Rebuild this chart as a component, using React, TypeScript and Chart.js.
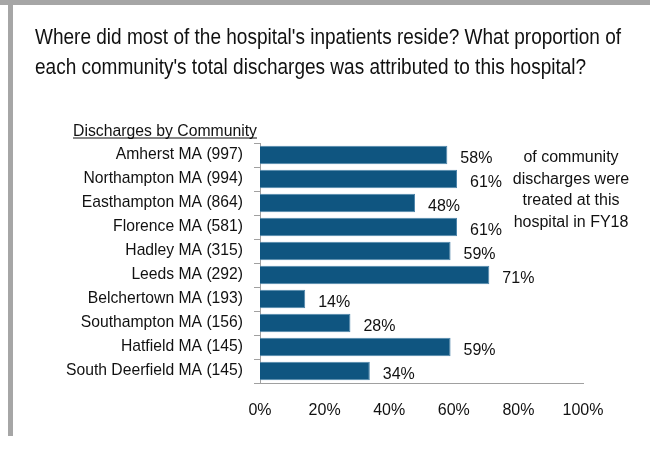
import React, { useEffect, useRef } from "react";
import { Chart, registerables } from "chart.js";

Chart.register(...registerables);

const communities = [
  "Amherst MA",
  "Northampton MA",
  "Easthampton MA",
  "Florence MA",
  "Hadley MA",
  "Leeds MA",
  "Belchertown MA",
  "Southampton MA",
  "Hatfield MA",
  "South Deerfield MA",
];
const discharges = [997, 994, 864, 581, 315, 292, 193, 156, 145, 145];
const shareTreated = [58, 61, 48, 61, 59, 71, 14, 28, 59, 34];
const xTicks = [0, 20, 40, 60, 80, 100];

const titleLines = [
  "Where did most of the hospital's inpatients reside? What proportion of",
  "each community's total discharges was attributed to this hospital?",
];
const axisTitle = "Discharges by Community";
const noteLines = ["of community", "discharges were", "treated at this", "hospital in FY18"];

const FONT = '"Liberation Sans", Arial, sans-serif';
const BAR = "#0f5580";
const GRAY = "#a6a6a6";
const AXIS_GRAY = "#a0a0a0";
const TEXT = "#111111";

const overlay = {
  id: "overlay",
  beforeDraw(chart: any) {
    const ctx = chart.ctx;
    ctx.save();
    ctx.fillStyle = "#ffffff";
    ctx.fillRect(0, 0, chart.width, chart.height);
    ctx.fillStyle = GRAY;
    ctx.fillRect(0, 0, chart.width, 5);
    ctx.fillRect(8, 0, 5, 436);
    ctx.restore();
  },
  afterDraw(chart: any) {
    const ctx = chart.ctx;
    ctx.save();
    ctx.fillStyle = TEXT;
    ctx.textBaseline = "alphabetic";

    // title
    ctx.font = `22px ${FONT}`;
    ctx.textAlign = "left";
    const w0 = ctx.measureText(titleLines[0]).width;
    const sx = 586 / w0;
    titleLines.forEach((t, i) => {
      ctx.save();
      ctx.translate(35, 44 + i * 30);
      ctx.scale(sx, 1);
      ctx.fillText(t, 0, 0);
      ctx.restore();
    });

    // axis title with underline
    ctx.font = `16px ${FONT}`;
    const wa = ctx.measureText(axisTitle).width;
    const sa = 184 / wa;
    ctx.save();
    ctx.translate(73, 136);
    ctx.scale(sa, 1);
    ctx.fillText(axisTitle, 0, 0);
    ctx.restore();
    ctx.fillRect(73, 137.5, 184, 1);

    // value labels
    const meta = chart.getDatasetMeta(0);
    ctx.font = `16px ${FONT}`;
    ctx.textAlign = "left";
    meta.data.forEach((bar: any, i: number) => {
      ctx.fillText(`${shareTreated[i]}%`, bar.x + 13, bar.y + 7.5);
    });

    // note
    ctx.textAlign = "center";
    const noteY = [162, 183.5, 205, 226.5];
    noteLines.forEach((t, i) => ctx.fillText(t, 571, noteY[i]));
    ctx.restore();
  },
};

export default function App() {
  const ref = useRef<HTMLCanvasElement>(null);
  useEffect(() => {
    if (!ref.current) return;
    const labels = communities.map((c, i) => `${c} (${discharges[i]})`);
    const chart = new Chart(ref.current, {
      type: "bar",
      data: {
        labels,
        datasets: [
          {
            data: shareTreated,
            backgroundColor: BAR,
            borderColor: "#4f86ab",
            borderWidth: 1,
            barPercentage: 0.78,
            categoryPercentage: 1,
          },
        ],
      },
      options: {
        indexAxis: "y",
        responsive: false,
        animation: false,
        layout: { padding: { left: 0, right: 67, top: 143, bottom: 0 } },
        plugins: { legend: { display: false }, tooltip: { enabled: false } },
        scales: {
          x: {
            min: 0,
            max: 100,
            afterBuildTicks: (s: any) => {
              s.ticks = xTicks.map((v) => ({ value: v }));
            },
            ticks: {
              callback: (v: any) => `${v}%`,
              font: { family: FONT, size: 16 },
              color: TEXT,
              padding: 18,
              maxRotation: 0,
            },
            grid: { display: false, drawTicks: false },
            border: { display: true, color: AXIS_GRAY, width: 1 },
            afterFit: (s: any) => {
              s.height = 66;
            },
          },
          y: {
            ticks: {
              font: { family: FONT, size: 15.7 },
              color: TEXT,
              padding: 11,
              autoSkip: false,
            },
            grid: {
              display: true,
              drawOnChartArea: false,
              drawTicks: true,
              tickLength: 6,
              color: AXIS_GRAY,
              offset: true,
            },
            border: { display: true, color: AXIS_GRAY, width: 1 },
            afterFit: (s: any) => {
              s.width = 260;
            },
          },
        },
      },
      plugins: [overlay],
    });
    return () => chart.destroy();
  }, []);
  return (
    <div style={{ position: "fixed", left: 0, top: 0, width: 650, height: 449 }}>
      <canvas ref={ref} width={650} height={449} />
    </div>
  );
}
